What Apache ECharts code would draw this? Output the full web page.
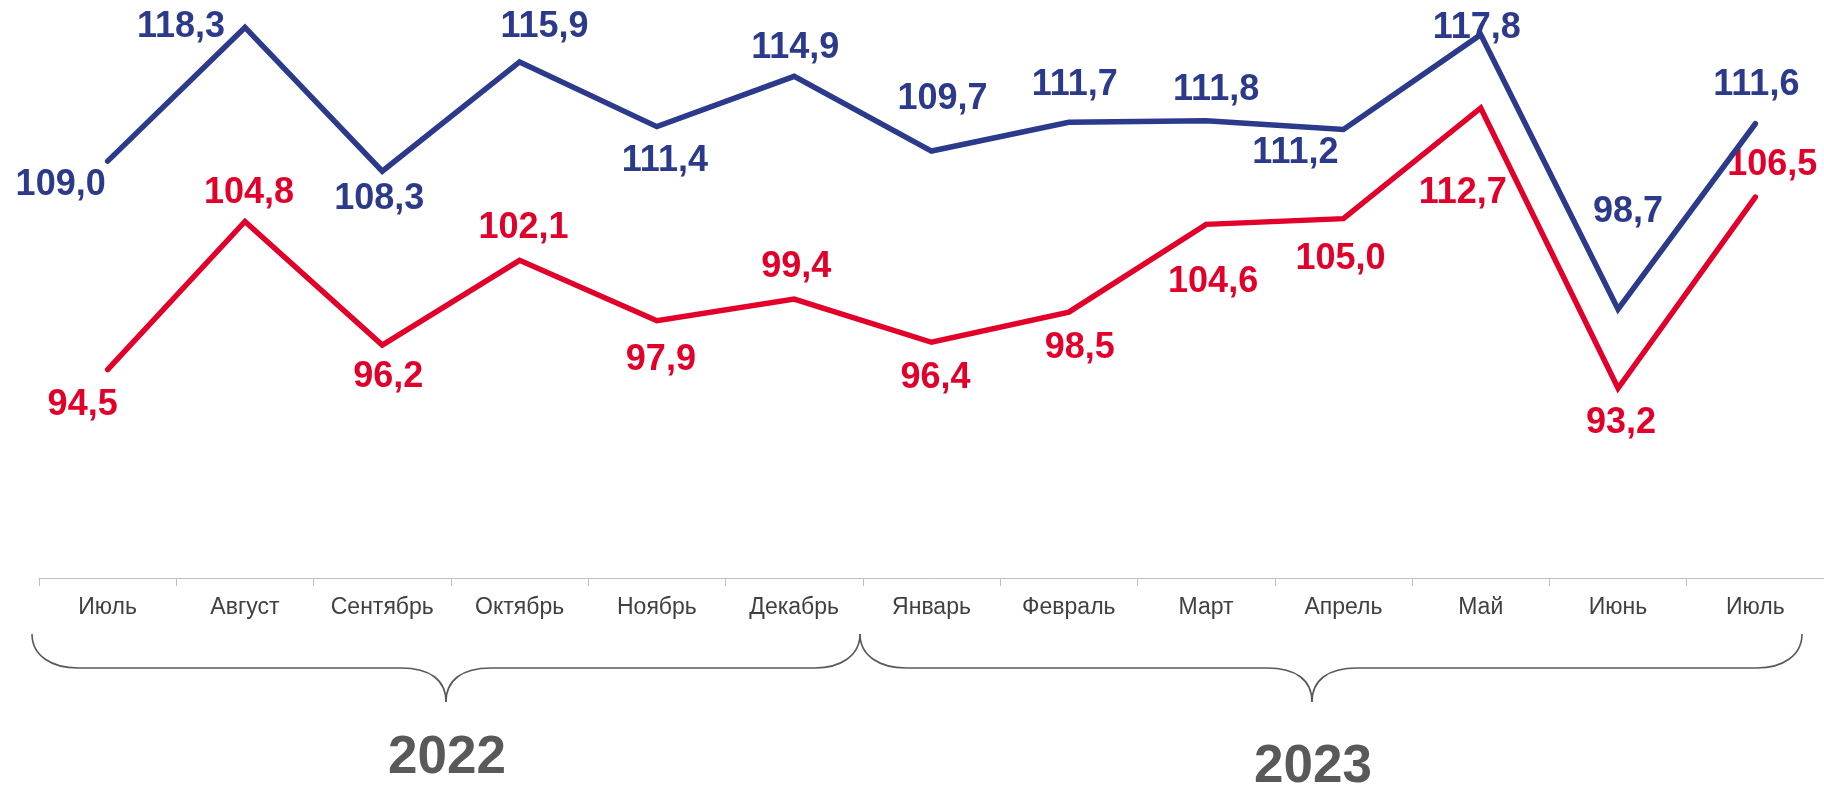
<!DOCTYPE html>
<html>
<head>
<meta charset="utf-8">
<script src="https://cdn.jsdelivr.net/npm/echarts@6/dist/echarts.min.js"></script>
<style>
html,body{margin:0;padding:0;background:#fff;}
#chart{width:1824px;height:792px;}
</style>
</head>
<body>
<div id="chart"></div>
<script>
// ---- data ----
var categories = ['Июль','Август','Сентябрь','Октябрь','Ноябрь','Декабрь','Январь','Февраль','Март','Апрель','Май','Июнь','Июль'];
var blueValues = [109.0,118.3,108.3,115.9,111.4,114.9,109.7,111.7,111.8,111.2,117.8,98.7,111.6];
var redValues  = [94.5,104.8,96.2,102.1,97.9,99.4,96.4,98.5,104.6,105.0,112.7,93.2,106.5];
var yearLabels = ['2022','2023'];

// ---- label placement (style, px offsets from point) ----
var blueOffsets = [[-47,24],[-64,0],[-3,28],[25,-35],[8,34],[1,-28],[11,-52],[6,-37],[10,-31],[-48,24],[-4,-7],[10,-97],[1,-39]];
var redOffsets  = [[-25,36],[4,-28],[6,32],[4,-32],[4,39],[2,-32],[4,36],[11,36],[7,58],[-3,40],[-18,85],[3,35],[17,-32]];

var BLUE = '#2B3A8A', RED = '#E2002A', GREY = '#595959', LABEL_GREY = '#404040';
var FONT = '"Liberation Sans", Arial, sans-serif';

function fmt(v){ return v.toFixed(1).replace('.', ','); }
function build(values, offsets){
  return values.map(function(v,i){
    return { value: v, label: { offset: offsets[i] } };
  });
}

var chart = echarts.init(document.getElementById('chart'));

var braceStyle = { stroke: GREY, lineWidth: 1.6, fill: null };
function bz(x1,y1,c1x,c1y,c2x,c2y,x2,y2){
  return { type:'bezierCurve', shape:{x1:x1,y1:y1,cpx1:c1x,cpy1:c1y,cpx2:c2x,cpy2:c2y,x2:x2,y2:y2}, style: braceStyle, silent:true };
}
function ln(x1,y1,x2,y2){
  return { type:'line', shape:{x1:x1,y1:y1,x2:x2,y2:y2}, style: braceStyle, silent:true };
}
function brace(xl, xc, xr){
  var top = 634, hy = 668, tip = 702;
  return [
    bz(xl,top, xl,656, xl+20,hy, xl+46,hy),
    ln(xl+46,hy, xc-45,hy),
    bz(xc-45,hy, xc-16,hy, xc,hy+12, xc,tip),
    bz(xc,tip, xc,hy+12, xc+16,hy, xc+45,hy),
    ln(xc+45,hy, xr-45,hy),
    bz(xr-45,hy, xr-20,hy, xr,656, xr,top)
  ];
}

var graphics = [].concat(brace(32, 446, 860), brace(860, 1312, 1802));
graphics.push({ type:'text', left: 448 - 60, top: 762 - 30, silent:true,
  style:{ text: yearLabels[0], font: 'bold 53px ' + FONT, fill: GREY, x:60, y:30, align:'center', verticalAlign:'middle' }});
graphics.push({ type:'text', left: 1314 - 60, top: 771 - 30, silent:true,
  style:{ text: yearLabels[1], font: 'bold 53px ' + FONT, fill: GREY, x:60, y:30, align:'center', verticalAlign:'middle' }});

var option = {
  animation: false,
  backgroundColor: '#fff',
  grid: { left: 39, width: 1787, top: 3, bottom: 214, containLabel: false },
  xAxis: {
    type: 'category',
    data: categories,
    boundaryGap: true,
    axisLine: { show: true, lineStyle: { color: '#BFBFBF', width: 1 } },
    axisTick: { show: true, length: 8, lineStyle: { color: '#BFBFBF' } },
    axisLabel: { color: LABEL_GREY, fontSize: 23, fontFamily: FONT, margin: 18, interval: 0 }
  },
  yAxis: { type: 'value', min: 80, max: 120, show: false, splitLine: { show: false } },
  series: [
    {
      name: 'blue', type: 'line', data: build(blueValues, blueOffsets),
      symbol: 'circle', symbolSize: 1, itemStyle: { color: BLUE },
      lineStyle: { color: BLUE, width: 5.5, cap: 'round', join: 'miter' },
      label: { show: true, position: 'inside', formatter: function(p){ return fmt(p.value); },
        color: BLUE, fontSize: 36, fontWeight: 'bold', fontFamily: FONT, align: 'center', verticalAlign: 'middle' },
      z: 3
    },
    {
      name: 'red', type: 'line', data: build(redValues, redOffsets),
      symbol: 'circle', symbolSize: 1, itemStyle: { color: RED },
      lineStyle: { color: RED, width: 5.5, cap: 'round', join: 'miter' },
      label: { show: true, position: 'inside', formatter: function(p){ return fmt(p.value); },
        color: RED, fontSize: 36, fontWeight: 'bold', fontFamily: FONT, align: 'center', verticalAlign: 'middle' },
      z: 2
    }
  ],
  graphic: graphics
};
chart.setOption(option);
</script>
</body>
</html>
